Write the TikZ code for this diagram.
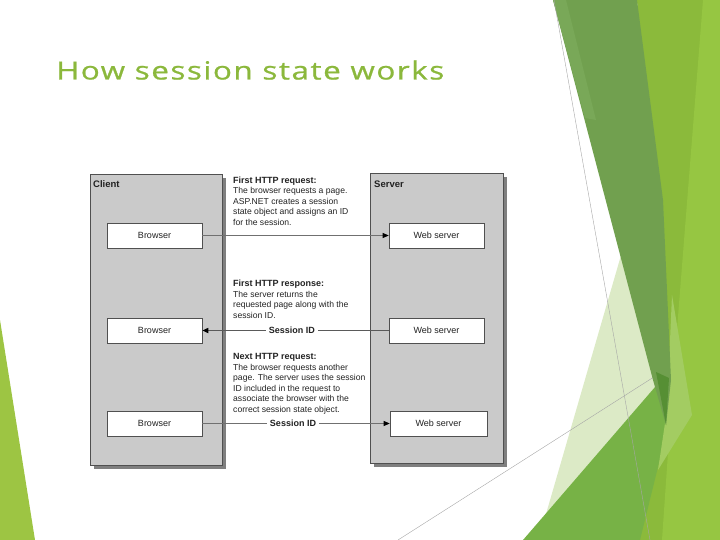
\documentclass[tikz,border=0pt]{standalone}
\usepackage{fontspec}
\setmainfont{Liberation Sans}
\newfontfamily\titlefont[LetterSpace=5, FakeBold=0.8]{Open Sans}
\usetikzlibrary{arrows.meta}
\definecolor{titlegreen}{HTML}{8BB83C}
\definecolor{leftgreen}{HTML}{9DC543}
\definecolor{paleg}{HTML}{DCEAC6}
\definecolor{rgreenA}{HTML}{8BBA3B}
\definecolor{rgreenB}{HTML}{96C642}
\definecolor{mgreen}{HTML}{77B246}
\definecolor{lwedge}{HTML}{A3CC62}
\definecolor{dgreen}{HTML}{71A04F}
\definecolor{dstripe}{HTML}{79A858}
\definecolor{dpatch}{HTML}{568F34}
\definecolor{panelgray}{HTML}{CACACA}
\definecolor{shadowgray}{HTML}{7F7F7F}
\definecolor{edgegray}{HTML}{505050}
\definecolor{linegray}{HTML}{707070}
\definecolor{txt}{HTML}{222222}
\tikzset{
  thinline/.style={draw=gray!70, line width=0.4pt},
  panel/.style={fill=panelgray, draw=edgegray, line width=0.5pt},
  shadow/.style={fill=shadowgray},
  box/.style={draw=edgegray, fill=white, line width=0.6pt, minimum width=95pt, minimum height=25pt, inner sep=0pt, font=\fontsize{9}{10}\selectfont, text=txt},
  hdr/.style={anchor=base west, inner sep=0pt, font=\bfseries\fontsize{9.5}{11}\selectfont, text=txt},
  note/.style={anchor=north west, inner sep=0pt, align=left, font=\fontsize{8.6}{10.5}\selectfont, text=txt},
  conn/.style={draw=linegray, line width=0.6pt, -{Triangle[length=6pt,width=5pt,color=black]}},
  connthick/.style={draw=linegray!80!black, line width=1.5pt, -{Triangle[length=6pt,width=5pt,color=black]}},
  sid/.style={fill=white, inner sep=3pt, font=\bfseries\fontsize{9}{10}\selectfont, text=txt}
}
\begin{document}
\begin{tikzpicture}[x=1pt,y=-1pt]
\useasboundingbox (0,0) rectangle (720,540);
% background decoration
\fill[leftgreen] (0,320) -- (0,540) -- (35,540) -- cycle;
\fill[paleg] (624,245) -- (657,395) -- (546,514) -- cycle;
\draw[thinline] (398,540) -- (668,368);
\fill[rgreenA] (637,0) -- (720,0) -- (720,540) -- (633,540) -- (665,420) -- cycle;
\fill[rgreenB] (703,0) -- (720,0) -- (720,540) -- (662,540) -- (673,380) -- cycle;
\fill[mgreen] (523,540) -- (668,372) -- (675,398) -- (640,540) -- cycle;
\fill[lwedge] (672,295) -- (692,415) -- (658,470) -- (667,410) -- cycle;
\fill[dgreen] (553,0) -- (637,0) -- (663,200) -- (671,380) -- (666,425) -- (653,380) -- cycle;
\fill[dstripe] (553,0) -- (566,0) -- (596,120) -- (585,118) -- cycle;
\fill[dpatch] (656,372) -- (669,378) -- (666,425) -- cycle;
\draw[thinline] (554,0) -- (650,540);
% title
\node[anchor=base west, inner sep=0pt, text=titlegreen] (title) at (56,79.5)
  {\resizebox{388pt}{19pt}{\titlefont\fontsize{24}{28}\selectfont How session state works}};
% panels
\fill[shadow] (94,178) rectangle (226,469);
\draw[panel] (90,174) rectangle (222,465);
\fill[shadow] (374,177) rectangle (507,467);
\draw[panel] (370,173) rectangle (503,463);
\node[hdr] (client) at (93,187.5) {Client};
\node[hdr] (server) at (374,187.5) {Server};
% boxes
\node[box] (b1) at (154.5,235.5) {Browser};
\node[box] (b2) at (154.5,330.5) {Browser};
\node[box] (b3) at (154.5,423.5) {Browser};
\node[box] (w1) at (436.5,235.5) {Web server};
\node[box] (w2) at (436.5,330.5) {Web server};
\node[box, minimum width=97pt] (w3) at (438.5,423.5) {Web server};
% notes
\node[note] (n1) at (233,176.5) {{\bfseries\fontsize{9}{10.5}\selectfont First HTTP request:}\\The browser requests a page.\\ASP.NET creates a session\\state object and assigns an ID\\for the session.};
\node[note] (n2) at (233,280) {{\bfseries\fontsize{9}{10.5}\selectfont First HTTP response:}\\The server returns the\\requested page along with the\\session ID.};
\node[note] (n3) at (233,353.5) {{\bfseries\fontsize{9}{10.5}\selectfont Next HTTP request:}\\The browser requests another\\page. The server uses the session\\ID included in the request to\\associate the browser with the\\correct session state object.};
% connectors
\draw[conn] (b1.east) -- (w1.west);
\draw[connthick] (w2.west) -- (b2.east) node[sid, pos=0.52] (sid1) {Session ID};
\draw[conn] (b3.east) -- (w3.west) node[sid, pos=0.484] (sid2) {Session ID};
\end{tikzpicture}
\end{document}
